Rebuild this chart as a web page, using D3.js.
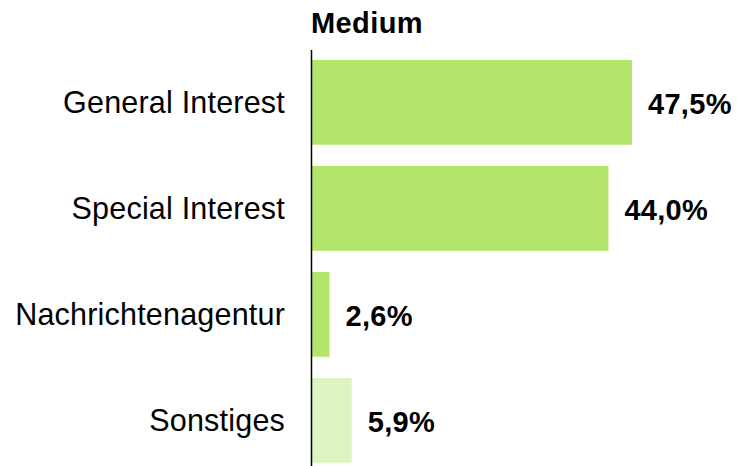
<!DOCTYPE html>
<html>
<head>
<meta charset="utf-8">
<script src="https://cdn.jsdelivr.net/npm/d3@7"></script>
<style>
  html, body { margin: 0; padding: 0; background: #ffffff; }
  svg { display: block; }
  text { font-family: "Liberation Sans", Arial, Helvetica, sans-serif; }
</style>
</head>
<body>
<div id="chart"></div>
<script>
const categories = ["General Interest", "Special Interest", "Nachrichtenagentur", "Sonstiges"];
const values = [47.5, 44.0, 2.6, 5.9];
const valueLabels = ["47,5%", "44,0%", "2,6%", "5,9%"];
const barColors = ["#b3e56b", "#b3e56b", "#b3e56b", "#dcf4c2"];
const title = "Medium";

const W = 741, H = 466;
const x0 = 312;

const svg = d3.select("#chart").append("svg")
  .attr("width", W).attr("height", H);

const x = d3.scaleLinear().domain([0, 47.5]).range([x0, 632]);
const y = d3.scaleBand().domain(categories).range([49.4, 473.4])
  .paddingInner(0.2).paddingOuter(0.1);

const data = categories.map((c, i) => ({ c, v: values[i], label: valueLabels[i], color: barColors[i] }));

svg.selectAll("rect.bar").data(data).enter().append("rect")
  .attr("class", "bar")
  .attr("x", x(0))
  .attr("y", d => y(d.c))
  .attr("width", d => x(d.v) - x(0))
  .attr("height", y.bandwidth())
  .attr("fill", d => d.color);

// axis line
svg.append("line")
  .attr("x1", x(0) - 0.5).attr("x2", x(0) - 0.5)
  .attr("y1", 50).attr("y2", H)
  .attr("stroke", "#000").attr("stroke-width", 1.5);

// category labels
svg.selectAll("text.cat").data(data).enter().append("text")
  .attr("class", "cat")
  .attr("x", 285)
  .attr("y", d => y(d.c) + y.bandwidth() / 2 + 10.5)
  .attr("text-anchor", "end")
  .attr("font-size", 30.5)
  .attr("letter-spacing", 0.2)
  .attr("fill", "#000")
  .text(d => d.c);

// value labels
svg.selectAll("text.val").data(data).enter().append("text")
  .attr("class", "val")
  .attr("x", d => x(d.v) + 16)
  .attr("y", d => y(d.c) + y.bandwidth() / 2 + 12)
  .attr("font-size", 29)
  .attr("font-weight", "bold")
  .attr("letter-spacing", 0.3)
  .attr("fill", "#000")
  .text(d => d.label);

svg.append("text")
  .attr("x", 311).attr("y", 33)
  .attr("font-size", 29)
  .attr("font-weight", "bold")
  .attr("letter-spacing", 0.4)
  .attr("fill", "#000")
  .text(title);
</script>
</body>
</html>
